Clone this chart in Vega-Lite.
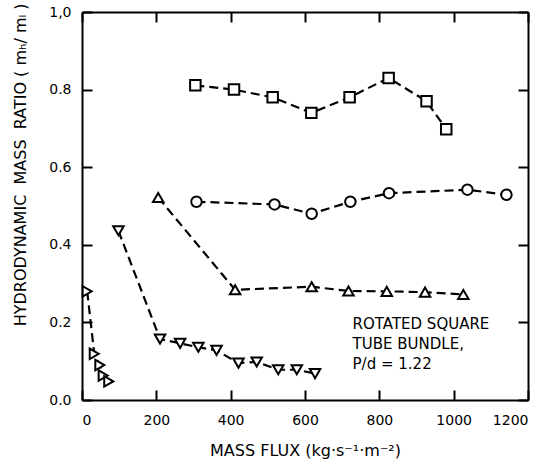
{
  "$schema": "https://vega.github.io/schema/vega-lite/v6.json",
  "width": 446,
  "height": 388,
  "autosize": {"type": "none"},
  "padding": {"left": 82, "top": 12, "right": 13, "bottom": 68},
  "config": {
    "view": {"stroke": null}
  },
  "data": {
    "values": [
      {"series": "S", "x": 305, "y": 0.811},
      {"series": "S", "x": 409, "y": 0.800},
      {"series": "S", "x": 513, "y": 0.780},
      {"series": "S", "x": 617, "y": 0.740},
      {"series": "S", "x": 720, "y": 0.780},
      {"series": "S", "x": 825, "y": 0.830},
      {"series": "S", "x": 927, "y": 0.770},
      {"series": "S", "x": 980, "y": 0.698},
      {"series": "C", "x": 308, "y": 0.511},
      {"series": "C", "x": 518, "y": 0.504},
      {"series": "C", "x": 618, "y": 0.480},
      {"series": "C", "x": 722, "y": 0.511},
      {"series": "C", "x": 826, "y": 0.533},
      {"series": "C", "x": 1037, "y": 0.542},
      {"series": "C", "x": 1142, "y": 0.529},
      {"series": "U", "x": 205, "y": 0.522},
      {"series": "U", "x": 412, "y": 0.284},
      {"series": "U", "x": 618, "y": 0.292},
      {"series": "U", "x": 717, "y": 0.281},
      {"series": "U", "x": 820, "y": 0.280},
      {"series": "U", "x": 923, "y": 0.278},
      {"series": "U", "x": 1026, "y": 0.272},
      {"series": "D", "x": 98, "y": 0.436},
      {"series": "D", "x": 210, "y": 0.157},
      {"series": "D", "x": 264, "y": 0.146},
      {"series": "D", "x": 313, "y": 0.136},
      {"series": "D", "x": 362, "y": 0.128},
      {"series": "D", "x": 421, "y": 0.095},
      {"series": "D", "x": 470, "y": 0.098},
      {"series": "D", "x": 528, "y": 0.078},
      {"series": "D", "x": 578, "y": 0.078},
      {"series": "D", "x": 627, "y": 0.068},
      {"series": "R", "x": 14, "y": 0.280},
      {"series": "R", "x": 33, "y": 0.119},
      {"series": "R", "x": 48, "y": 0.090},
      {"series": "R", "x": 57, "y": 0.063},
      {"series": "R", "x": 72, "y": 0.048}
    ]
  },
  "layer": [
    {
      "mark": {"type": "line", "color": "black", "strokeWidth": 2.2, "strokeDash": [9, 5]},
      "encoding": {
        "x": {"field": "x", "type": "quantitative", "scale": {"domain": [0, 1200], "nice": false},
          "axis": {"tickCount": 6, "format": "d", "gridOpacity": 0,
            "domainColor": "black", "domainWidth": 2,
            "tickSize": -10, "tickWidth": 2, "tickColor": "black", "labelPadding": 23,
            "labelFontSize": 14, "labelColor": "black", "labelFont": "DejaVu Sans",
            "title": "MASS FLUX (kg·s⁻¹·m⁻²)", "titlePadding": 15,
            "titleFontSize": 16, "titleFontWeight": "normal", "titleColor": "black", "titleFont": "DejaVu Sans"}},
        "y": {"field": "y", "type": "quantitative", "scale": {"domain": [0, 1], "nice": false},
          "axis": {"tickCount": 5, "gridOpacity": 0,
            "domainColor": "black", "domainWidth": 2,
            "tickSize": -10, "tickWidth": 2, "tickColor": "black", "labelPadding": 21,
            "labelFontSize": 14, "labelColor": "black", "labelFont": "DejaVu Sans",
            "labelExpr": "datum.value == 1 ? '1,0' : format(datum.value, '.1f')",
            "title": "HYDRODYNAMIC\u00a0\u00a0MASS\u00a0\u00a0RATIO\u00a0( mₕ/ mₗ )", "titleAngle": 270, "titleAlign": "right",
            "titleBaseline": "middle", "titleX": -62, "titleY": -9,
            "titleFontSize": 16, "titleFontWeight": "normal", "titleColor": "black", "titleFont": "DejaVu Sans"}},
        "detail": {"field": "series"}
      }
    },
    {
      "mark": {"type": "point", "filled": true, "fill": "white", "stroke": "black", "strokeWidth": 2, "size": 110, "opacity": 1},
      "encoding": {
        "x": {"field": "x", "type": "quantitative",
          "axis": {"orient": "top", "labels": false, "title": null, "tickCount": 6, "gridOpacity": 0, "domainColor": "black", "domainWidth": 2,
            "tickSize": -10, "tickWidth": 2, "tickColor": "black"}},
        "y": {"field": "y", "type": "quantitative",
          "axis": {"orient": "right", "labels": false, "title": null, "tickCount": 5, "gridOpacity": 0, "domainColor": "black", "domainWidth": 2,
            "tickSize": -10, "tickWidth": 2, "tickColor": "black"}},
        "shape": {"field": "series", "type": "nominal", "legend": null,
          "scale": {"domain": ["S", "C", "U", "D", "R"], "range": ["square", "circle", "triangle-up", "triangle-down", "triangle-right"]}}
      }
    },
    {
      "data": {"values": [{}]},
      "mark": {"type": "text", "align": "left", "baseline": "middle", "fontSize": 15, "lineHeight": 20, "color": "black", "font": "DejaVu Sans",
        "text": ["ROTATED SQUARE", "TUBE BUNDLE,", "P/d = 1.22"]},
      "encoding": {
        "x": {"datum": 728, "type": "quantitative", "axis": null},
        "y": {"datum": 0.195, "type": "quantitative", "axis": null}
      }
    }
  ],
  "resolve": {"axis": {"x": "independent", "y": "independent"}}
}
